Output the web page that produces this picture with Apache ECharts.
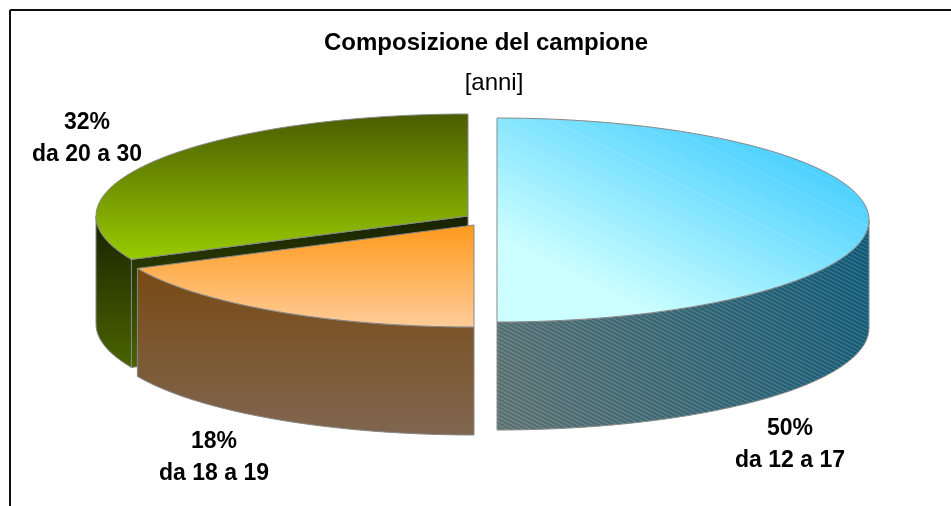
<!DOCTYPE html>
<html>
<head>
<meta charset="utf-8">
<style>
html, body { margin: 0; padding: 0; background: #fff; }
#chart { width: 951px; height: 506px; }
</style>
<script src="https://cdn.jsdelivr.net/npm/echarts@6/dist/echarts.min.js"></script>
</head>
<body>
<div id="chart"></div>
<script>
const titleText = "Composizione del campione"
const subtitleText = "[anni]"
const categories = ["da 12 a 17", "da 18 a 19", "da 20 a 30"]
const percentages = [50, 18, 32]

// drawing setup, one entry per slice
const centers = [[497, 220], [474, 225], [468, 216]]
const labelAnchors = [[790, 445], [214, 458], [87, 139]]
const topColors = [
    { type: "linear", x: 0, y: 1, x2: 0.36, y2: -0.31, colorStops: [{ offset: 0, color: "#ccffff" }, { offset: 0.25, color: "#ccffff" }, { offset: 1, color: "#40ccff" }] },
    { type: "linear", x: 0.5, y: 0, x2: 0.5, y2: 1, colorStops: [{ offset: 0, color: "#ff9a1c" }, { offset: 1, color: "#ffcc99" }] },
    { type: "linear", x: 0.5, y: 0, x2: 0.5, y2: 1, colorStops: [{ offset: 0, color: "#4a5c00" }, { offset: 1, color: "#99cc00" }] }
]
const wallColors = [
    { type: "linear", x: 1, y: 0.1, x2: 0, y2: 0.9, colorStops: [{ offset: 0, color: "#0f5a78" }, { offset: 1, color: "#5c7272" }] },
    { type: "linear", x: 0.5, y: 0, x2: 0.5, y2: 1, colorStops: [{ offset: 0, color: "#784a14" }, { offset: 1, color: "#806650" }] },
    { type: "linear", x: 0.5, y: 0, x2: 0.5, y2: 1, colorStops: [{ offset: 0, color: "#172200" }, { offset: 1, color: "#4a6400" }] }
]
const radiusX = 372
const radiusY = 102
const depth = 108
const edgeColor = "#888888"
const fontName = "'Liberation Sans', Arial, sans-serif"

const total = percentages.reduce((a, b) => a + b, 0)

function makeHatch(alpha, w, h) {
    const c = document.createElement("canvas")
    c.width = w
    c.height = h
    const ctx = c.getContext("2d")
    ctx.strokeStyle = "rgba(255,255,255," + alpha + ")"
    ctx.lineWidth = 1
    ctx.beginPath()
    ctx.moveTo(0, 0)
    ctx.lineTo(w, h)
    ctx.moveTo(-w, 0)
    ctx.lineTo(w, 2 * h)
    ctx.stroke()
    return c
}
const wallHatch = { image: makeHatch(0.2, 8, 4), repeat: "repeat" }
const topHatch = { image: makeHatch(0.12, 26, 13), repeat: "repeat" }

function pointAt(center, frac, dy) {
    const a = frac * Math.PI * 2
    return [center[0] + radiusX * Math.sin(a), center[1] - radiusY * Math.cos(a) + dy]
}

function arcPoints(center, from, to, dy) {
    const n = Math.max(2, Math.ceil((to - from) * 160))
    const pts = []
    for (let i = 0; i <= n; i++) {
        pts.push(pointAt(center, from + (to - from) * i / n, dy))
    }
    return pts
}

function poly(points, fill, stroke) {
    return {
        type: "polygon",
        shape: { points: points },
        style: { fill: fill, stroke: stroke ? edgeColor : null, lineWidth: 1 }
    }
}

function renderSlice(params, api) {
    const i = api.value(0)
    const center = centers[i]
    let before = 0
    for (let k = 0; k < i; k++) before += percentages[k]
    const from = before / total
    const to = (before + percentages[i]) / total
    const children = []

    // cut face on the left side of a slice, only seen when it looks to the front
    if (from > 0.5 && from < 1) {
        const edge = pointAt(center, from, 0)
        children.push(poly([center, edge, [edge[0], edge[1] + depth], [center[0], center[1] + depth]], wallColors[i], true))
    }

    // outer wall, only the half facing the viewer is visible
    const wallFrom = Math.max(from, 0.25)
    const wallTo = Math.min(to, 0.75)
    if (wallTo > wallFrom) {
        const upper = arcPoints(center, wallFrom, wallTo, 0)
        const lower = arcPoints(center, wallFrom, wallTo, depth).reverse()
        const wall = upper.concat(lower)
        children.push(poly(wall, wallColors[i], true))
        if (i === 0) children.push(poly(wall, wallHatch, false))
    }

    const topPts = [center].concat(arcPoints(center, from, to, 0))
    children.push(poly(topPts, topColors[i], true))
    if (i === 0) children.push(poly(topPts, topHatch, false))

    const anchor = labelAnchors[i]
    children.push({
        type: "text",
        style: {
            x: anchor[0],
            y: anchor[1],
            text: percentages[i] + "%\n" + categories[i],
            fill: "#000",
            font: "bold 23px " + fontName,
            lineHeight: 32,
            align: "center",
            verticalAlign: "middle"
        }
    })
    return { type: "group", children: children }
}

const chart = echarts.init(document.getElementById("chart"), null, { renderer: "canvas" })
chart.setOption({
    animation: false,
    backgroundColor: "#fff",
    title: [
        {
            text: titleText,
            left: 481,
            top: 26,
            textAlign: "center",
            textStyle: { fontFamily: fontName, fontWeight: "bold", fontSize: 24, color: "#000" }
        },
        {
            text: subtitleText,
            left: 489,
            top: 66,
            textAlign: "center",
            textStyle: { fontFamily: fontName, fontWeight: "normal", fontSize: 24, color: "#000" }
        }
    ],
    graphic: [
        { type: "line", shape: { x1: 10, y1: 10, x2: 951, y2: 10 }, style: { stroke: "#111", lineWidth: 2 } },
        { type: "line", shape: { x1: 10, y1: 10, x2: 10, y2: 506 }, style: { stroke: "#111", lineWidth: 2 } }
    ],
    series: [
        {
            type: "custom",
            coordinateSystem: "none",
            renderItem: renderSlice,
            // painted back to front: green, orange, blue
            data: [[2], [1], [0]],
            encode: { tooltip: [] },
            silent: true
        }
    ]
})
</script>
</body>
</html>
